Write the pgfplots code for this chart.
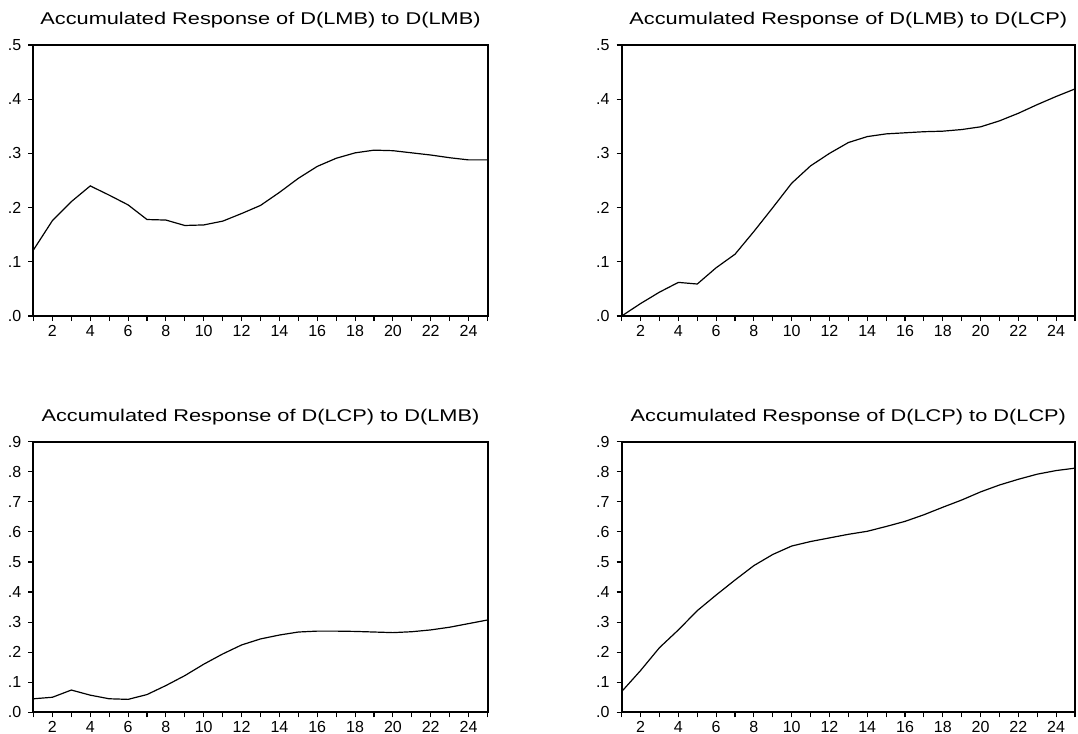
\documentclass[border=0pt]{standalone}
\usepackage{fontspec}
\setmainfont{Liberation Sans}
\usepackage{graphicx}
\usepackage{pgfplots}
\pgfplotsset{compat=1.18}
\pgfplotstableread{
x a b c d
1 0.122 0.000 0.045 0.069
2 0.176 0.023 0.050 0.139
3 0.211 0.044 0.074 0.215
4 0.240 0.062 0.057 0.274
5 0.223 0.059 0.045 0.338
6 0.205 0.089 0.043 0.390
7 0.178 0.114 0.059 0.440
8 0.177 0.156 0.089 0.488
9 0.167 0.200 0.122 0.525
10 0.168 0.245 0.160 0.553
11 0.175 0.277 0.194 0.568
12 0.189 0.300 0.224 0.580
13 0.204 0.320 0.244 0.592
14 0.228 0.331 0.257 0.602
15 0.254 0.336 0.267 0.618
16 0.276 0.338 0.270 0.635
17 0.291 0.340 0.270 0.657
18 0.301 0.341 0.269 0.682
19 0.306 0.344 0.267 0.706
20 0.305 0.349 0.265 0.733
21 0.301 0.360 0.268 0.756
22 0.297 0.374 0.274 0.775
23 0.292 0.390 0.283 0.792
24 0.288 0.405 0.295 0.804
25 0.288 0.419 0.307 0.812
}\datatable
\pgfplotsset{
  irf/.style={
    scale only axis,
    anchor=south west,
    xmin=1, xmax=25,
    ymin=0,
    axis line style={line width=1pt},
    tick align=outside,
    xtick pos=bottom, ytick pos=left,
    xtick={2,4,6,8,10,12,14,16,18,20,22,24},
    xticklabels={2,4,6,8,10,12,14,16,18,20,22,24},
    minor xtick={1,3,5,7,9,11,13,15,17,19,21,23,25},
    major tick length=2.6pt, minor tick length=2.6pt,
    every tick/.style={line width=0.55pt, black},
    tick label style={font=\fontsize{8}{8}\selectfont},
    xticklabel style={yshift=1.5pt},
    every axis title/.style={at={(0.5,1)}, anchor=base, yshift=10pt, font=\fontsize{8.5}{10}\selectfont},
  },
  top/.style={ymax=0.5, height=135.5pt,
    ytick={0,0.1,0.2,0.3,0.4,0.5}, yticklabels={.0,.1,.2,.3,.4,.5}},
  bot/.style={ymax=0.9, height=135.3pt,
    ytick={0,0.1,0.2,0.3,0.4,0.5,0.6,0.7,0.8,0.9}, yticklabels={.0,.1,.2,.3,.4,.5,.6,.7,.8,.9}},
  irfline/.style={black, line width=0.6pt, mark=none},
}
\begin{document}
\begin{tikzpicture}
\useasboundingbox (0,0) rectangle (539pt,367pt);
\begin{axis}[irf, top, at={(16.75pt,209pt)}, width=227pt,
  title={\scalebox{1.28}[1]{Accumulated Response of D(LMB) to D(LMB)}}]
\addplot[irfline] table[x=x,y=a]{\datatable};
\end{axis}
\begin{axis}[irf, top, at={(310.85pt,209pt)}, width=226.65pt,
  title={\scalebox{1.28}[1]{Accumulated Response of D(LMB) to D(LCP)}}]
\addplot[irfline] table[x=x,y=b]{\datatable};
\end{axis}
\begin{axis}[irf, bot, at={(16.75pt,10.85pt)}, width=227pt,
  title={\scalebox{1.28}[1]{Accumulated Response of D(LCP) to D(LMB)}}]
\addplot[irfline] table[x=x,y=c]{\datatable};
\end{axis}
\begin{axis}[irf, bot, at={(310.85pt,10.85pt)}, width=226.65pt,
  title={\scalebox{1.28}[1]{Accumulated Response of D(LCP) to D(LCP)}}]
\addplot[irfline] table[x=x,y=d]{\datatable};
\end{axis}
\end{tikzpicture}
\end{document}
